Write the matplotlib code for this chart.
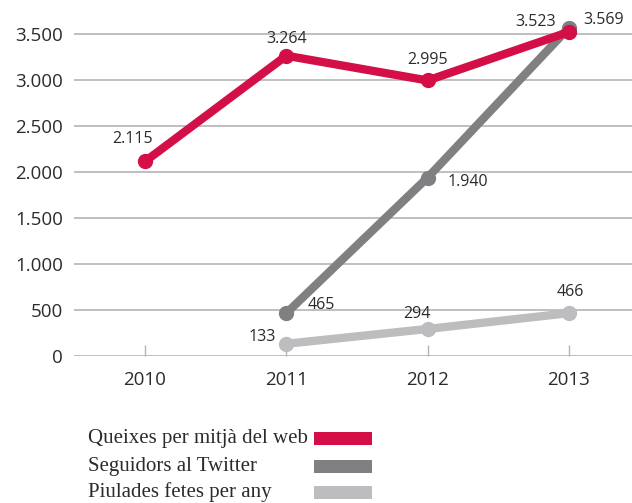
import matplotlib
matplotlib.use("Agg")
import matplotlib.pyplot as plt
from matplotlib.patches import Rectangle

# Data
years = [2010, 2011, 2012, 2013]
queixes = [2115, 3264, 2995, 3523]
seguidors = [None, 465, 1940, 3569]
piulades = [None, 133, 294, 466]

series_names = ["Queixes per mitjà del web", "Seguidors al Twitter", "Piulades fetes per any"]
colors = ["#d40f47", "#808083", "#bdbdc0"]

y_ticks = [0, 500, 1000, 1500, 2000, 2500, 3000, 3500]
y_tick_labels = ["0", "500", "1.000", "1.500", "2.000", "2.500", "3.000", "3.500"]

# label offsets in pixels (dx, dy, ha)
label_offsets = [
    [(-12, 22, "center"), (0, 17, "center"), (0, 20, "center"), (-13, 10, "right")],
    [None, (21, 8, "left"), (20, -4, "left"), (14, 8, "left")],
    [None, (-10, 7, "right"), (-11, 15, "center"), (1, 21, "center")],
]

def fmt(v):
    return f"{v:,}".replace(",", ".")

W, H = 632, 503
fig = plt.figure(figsize=(W / 100, H / 100), dpi=100, facecolor="white")
ax_left = 74 / W
ax_bottom = (H - 356) / H
ymax = 3800
px_per_unit = 46 / 500
ax_h = ymax * px_per_unit / H
ax = fig.add_axes([ax_left, ax_bottom, 1 - ax_left, ax_h])

px_per_year = 141.33
ax.set_xlim(2010 - (145 - 74) / px_per_year, 2013 + (632 - 569) / px_per_year)
ax.set_ylim(0, ymax)

text_color = "#2b2b2b"
grid_color = "#b4b4b4"

for y in y_ticks:
    ax.axhline(y, color=grid_color, lw=1.2, zorder=1)

for spine in ax.spines.values():
    spine.set_visible(False)

ax.set_yticks(y_ticks)
ax.set_yticklabels(y_tick_labels)
ax.set_xticks(years)
ax.set_xticklabels([str(y) for y in years])
ax.tick_params(axis="y", length=0, pad=8, labelsize=13.5, labelcolor=text_color)
ax.tick_params(axis="x", direction="in", length=8, width=1, color=grid_color,
               pad=11, labelsize=13.5, labelcolor=text_color)
for lab in ax.get_xticklabels() + ax.get_yticklabels():
    lab.set_family("Open Sans")

all_series = [queixes, seguidors, piulades]
z = [5, 4, 3]
for vals, col, offs, zz in zip(all_series, colors, label_offsets, z):
    xs = [x for x, v in zip(years, vals) if v is not None]
    ys = [v for v in vals if v is not None]
    ax.plot(xs, ys, color=col, lw=6, marker="o", markersize=10,
            solid_capstyle="round", zorder=zz, clip_on=False)
    for x, v, off in zip(years, vals, offs):
        if v is None:
            continue
        dx, dy, ha = off
        ax.annotate(fmt(v), (x, v), xytext=(dx, dy), textcoords="offset pixels",
                    ha=ha, va="center", fontsize=11.5, color=text_color,
                    family="Open Sans", zorder=6)

# legend
rows_y = [438, 466, 492]
for name, col, ry in zip(series_names, colors, rows_y):
    fig.text(88 / W, 1 - ry / H, name, ha="left", va="center",
             fontsize=15, family="Liberation Serif", color=text_color)
    fig.patches.append(Rectangle((314 / W, 1 - (ry + 6.5) / H), 58 / W, 13 / H,
                                 transform=fig.transFigure, facecolor=col,
                                 edgecolor="none"))

fig.savefig("out.png", dpi=100, facecolor="white")
